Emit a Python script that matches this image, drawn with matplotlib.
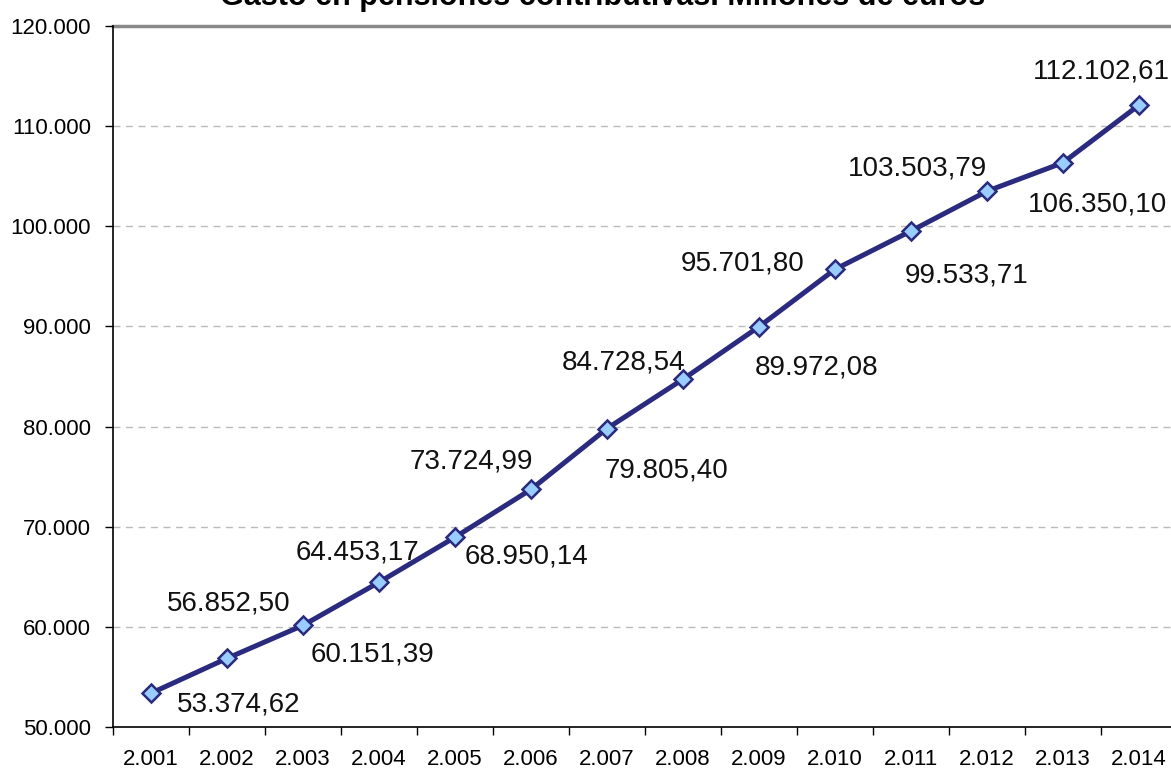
import matplotlib
matplotlib.use("Agg")
import matplotlib.pyplot as plt
from matplotlib.ticker import FixedLocator

years = ["2.001", "2.002", "2.003", "2.004", "2.005", "2.006", "2.007",
         "2.008", "2.009", "2.010", "2.011", "2.012", "2.013", "2.014"]
values = [53374.62, 56852.50, 60151.39, 64453.17, 68950.14, 73724.99, 79805.40,
          84728.54, 89972.08, 95701.80, 99533.71, 103503.79, 106350.10, 112102.61]
value_labels = ["53.374,62", "56.852,50", "60.151,39", "64.453,17", "68.950,14",
                "73.724,99", "79.805,40", "84.728,54", "89.972,08", "95.701,80",
                "99.533,71", "103.503,79", "106.350,10", "112.102,61"]
y_ticks = [50000, 60000, 70000, 80000, 90000, 100000, 110000, 120000]
y_tick_labels = ["50.000", "60.000", "70.000", "80.000", "90.000",
                 "100.000", "110.000", "120.000"]
title = "Gasto en pensiones contributivas. Millones de euros"

# label offsets in pixels (dx, dy)
offsets = [(88, -11), (2, 55), (70, -29), (-22, 30), (72, -19), (-60, 28),
           (60, -42), (-59, 17), (58, -41), (-92, 6), (56, -45), (-70, 23),
           (35, -42), (-38, 34)]

plt.rcParams['font.family'] = ['Liberation Sans', 'DejaVu Sans']

W, H = 1171, 771
fig = plt.figure(figsize=(W / 100, H / 100), dpi=100)
left, right, top, bottom = 113, 1177, 26, 727
ax = fig.add_axes([left / W, 1 - bottom / H, (right - left) / W, (bottom - top) / H])

x = list(range(len(years)))
ax.set_xlim(-0.5, len(years) - 0.5)
ax.set_ylim(50000, 120000)

# grid
for yt in y_ticks[1:-1]:
    ax.axhline(yt, color="#BBBBBB", lw=1, ls=(0, (5, 4)), zorder=0)
ax.axhline(120000, color="#888888", lw=2.5, zorder=1, clip_on=False)

ax.plot(x, values, color="#2A2A7E", lw=3.6, marker="D", markersize=9,
        markerfacecolor="#99CCFF", markeredgecolor="#2A2A7E", markeredgewidth=1.8,
        zorder=3)

for xi, v, lab, (dx, dy) in zip(x, values, value_labels, offsets):
    ax.annotate(lab, (xi, v), xytext=(dx, dy), textcoords="offset pixels",
                ha="center", va="center", fontsize=20, color="#111111", zorder=4)

for s in ["top", "right"]:
    ax.spines[s].set_visible(False)
ax.spines["left"].set_color("black")
ax.spines["bottom"].set_color("black")
ax.spines["left"].set_linewidth(1.2)
ax.spines["bottom"].set_linewidth(1.2)

ax.set_yticks(y_ticks)
ax.set_yticklabels(y_tick_labels, fontsize=16)
ax.tick_params(axis="y", length=6, width=1, direction="out", pad=10)

ax.xaxis.set_major_locator(FixedLocator([i - 0.5 for i in range(len(years) + 1)]))
ax.set_xticklabels([])
ax.xaxis.set_minor_locator(FixedLocator(x))
ax.set_xticklabels(years, minor=True, fontsize=16)
ax.tick_params(axis="x", which="major", length=6, width=1, direction="out")
ax.tick_params(axis="x", which="minor", length=0, pad=16)

fig.text(603 / W, 1 - 5 / H, title, ha="center", va="baseline",
         fontsize=22, fontweight="bold")

fig.savefig("out.png", dpi=100)
